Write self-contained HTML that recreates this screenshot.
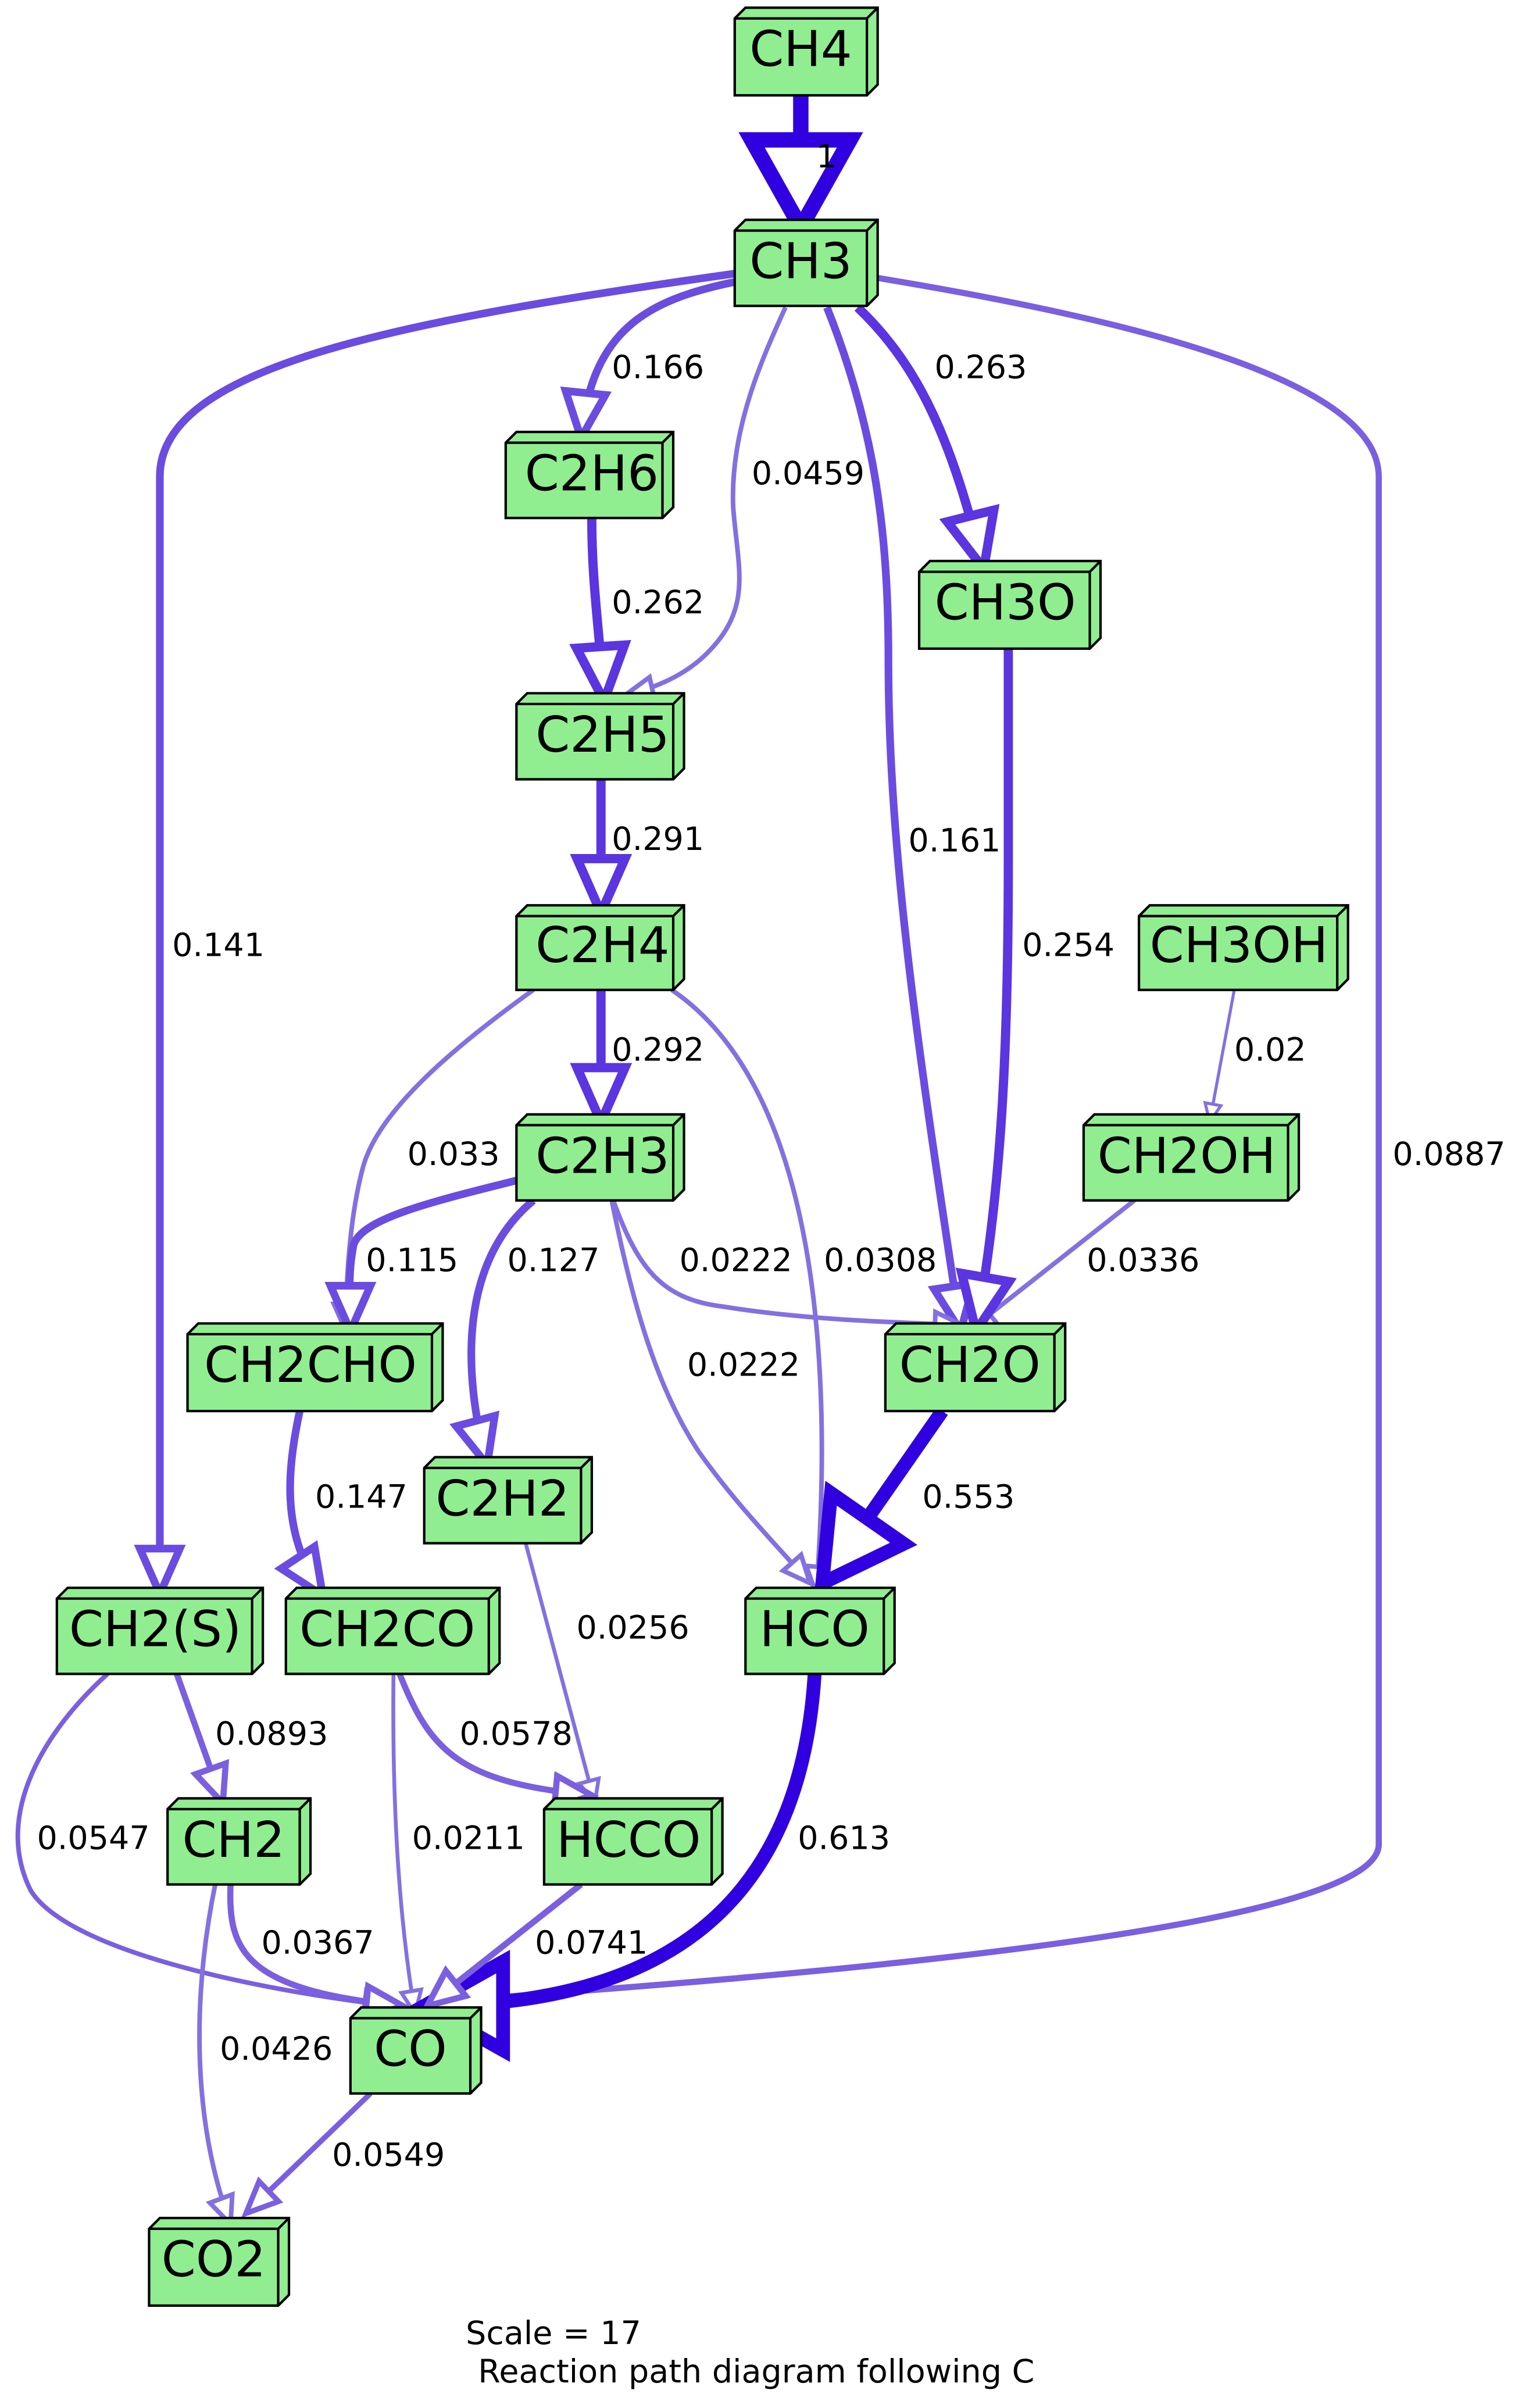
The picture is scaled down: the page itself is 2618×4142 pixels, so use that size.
<!DOCTYPE html>
<html><head><meta charset="utf-8"><style>html,body{margin:0;padding:0;background:#fff}svg{display:block}</style></head>
<body>
<svg xmlns="http://www.w3.org/2000/svg" width="2618" height="4142" viewBox="0 0 990.2 1566.6">
<defs>
<marker id="a1" viewBox="-1 -4.5 8 9" refX="5.7" refY="0" markerWidth="8" markerHeight="9" orient="auto" markerUnits="strokeWidth" overflow="visible"><path d="M0,-3.2 L5.7,0 L0,3.2 Z" fill="#fff" stroke="#3000e0" stroke-width="1"/></marker>
<marker id="a2" viewBox="-1 -4.5 8 9" refX="5.9" refY="0" markerWidth="8" markerHeight="9" orient="auto" markerUnits="strokeWidth" overflow="visible"><path d="M0,-2.6 L5.9,0 L0,2.6 Z" fill="#fff" stroke="#5a35e0" stroke-width="1"/></marker>
<marker id="a3" viewBox="-1 -4.5 8 9" refX="5.9" refY="0" markerWidth="8" markerHeight="9" orient="auto" markerUnits="strokeWidth" overflow="visible"><path d="M0,-2.6 L5.9,0 L0,2.6 Z" fill="#fff" stroke="#6b4ce0" stroke-width="1"/></marker>
<marker id="a4" viewBox="-1 -4.5 8 9" refX="5.9" refY="0" markerWidth="8" markerHeight="9" orient="auto" markerUnits="strokeWidth" overflow="visible"><path d="M0,-2.6 L5.9,0 L0,2.6 Z" fill="#fff" stroke="#7a5fe0" stroke-width="1"/></marker>
<marker id="a5" viewBox="-1 -4.5 8 9" refX="5.9" refY="0" markerWidth="8" markerHeight="9" orient="auto" markerUnits="strokeWidth" overflow="visible"><path d="M0,-2.6 L5.9,0 L0,2.6 Z" fill="#fff" stroke="#8470e0" stroke-width="1"/></marker>
</defs>
<g fill="none">
<path d="M521,62 L521,148" stroke="#3000e0" stroke-width="10" marker-end="url(#a1)"/>
<path d="M480,183 C420,195 385,215 378,285" stroke="#6b4ce0" stroke-width="5" marker-end="url(#a3)"/>
<path d="M511,200 C495,235 475,280 477,330 C480,370 490,395 460,425 C445,440 425,448 407,452" stroke="#8470e0" stroke-width="3" marker-end="url(#a5)"/>
<path d="M538,200 C570,280 578,350 578,430 C578,560 600,700 625,866" stroke="#6b4ce0" stroke-width="5" marker-end="url(#a3)"/>
<path d="M558,200 C600,240 620,290 640,370" stroke="#5a35e0" stroke-width="6" marker-end="url(#a2)"/>
<path d="M478,178 C250,210 104,240 104,310 L104,1037" stroke="#6b4ce0" stroke-width="5" marker-end="url(#a3)"/>
<path d="M566,180 C750,210 897,250 897,310 L897,1200 C897,1260 450,1290 275,1303" stroke="#7a5fe0" stroke-width="4" marker-end="url(#a4)"/>
<path d="M385,337 C385,380 390,410 393,456" stroke="#5a35e0" stroke-width="6" marker-end="url(#a2)"/>
<path d="M391,507 L391,594" stroke="#5a35e0" stroke-width="6" marker-end="url(#a2)"/>
<path d="M391,644 L391,730" stroke="#5a35e0" stroke-width="6" marker-end="url(#a2)"/>
<path d="M347,644 C290,685 245,725 236,760 C228,790 225,830 225,866" stroke="#8470e0" stroke-width="3" marker-end="url(#a5)"/>
<path d="M437,644 C520,700 545,850 531,1037" stroke="#8470e0" stroke-width="3" marker-end="url(#a5)"/>
<path d="M803,644 L787,730" stroke="#8470e0" stroke-width="2" marker-end="url(#a5)"/>
<path d="M738,781 L630,866" stroke="#8470e0" stroke-width="3" marker-end="url(#a5)"/>
<path d="M336,768 C280,782 235,793 230,810 C226,830 228,845 228,866" stroke="#6b4ce0" stroke-width="5" marker-end="url(#a3)"/>
<path d="M347,781 C300,820 300,890 317,953" stroke="#6b4ce0" stroke-width="5" marker-end="url(#a3)"/>
<path d="M399,781 C415,825 430,845 470,850 C520,858 570,860 626,862" stroke="#8470e0" stroke-width="3" marker-end="url(#a5)"/>
<path d="M398,781 C410,840 425,900 455,945 C480,980 505,1005 527,1030" stroke="#8470e0" stroke-width="3" marker-end="url(#a5)"/>
<path d="M656,422 L656,560 C656,700 650,780 635,866" stroke="#5a35e0" stroke-width="6" marker-end="url(#a2)"/>
<path d="M613,918 L535,1030" stroke="#3000e0" stroke-width="9" marker-end="url(#a1)"/>
<path d="M195,918 C185,965 185,1000 210,1038" stroke="#6b4ce0" stroke-width="5" marker-end="url(#a3)"/>
<path d="M342,1004 L387,1173" stroke="#8470e0" stroke-width="2.5" marker-end="url(#a5)"/>
<path d="M115,1089 L145,1173" stroke="#7a5fe0" stroke-width="4" marker-end="url(#a4)"/>
<path d="M70,1089 C30,1125 -5,1180 20,1230 C45,1270 170,1295 255,1305" stroke="#7a5fe0" stroke-width="3" marker-end="url(#a4)"/>
<path d="M260,1089 C280,1140 300,1160 385,1168" stroke="#7a5fe0" stroke-width="4" marker-end="url(#a4)"/>
<path d="M256,1089 C255,1180 260,1250 270,1310" stroke="#8470e0" stroke-width="2.5" marker-end="url(#a5)"/>
<path d="M530,1089 C520,1250 420,1305 276,1305" stroke="#3000e0" stroke-width="9" marker-end="url(#a1)"/>
<path d="M378,1226 L278,1305" stroke="#7a5fe0" stroke-width="4" marker-end="url(#a4)"/>
<path d="M150,1226 C148,1270 160,1295 262,1305" stroke="#7a5fe0" stroke-width="4" marker-end="url(#a4)"/>
<path d="M140,1226 C125,1300 125,1380 150,1447" stroke="#8470e0" stroke-width="3" marker-end="url(#a5)"/>
<path d="M241,1362 L160,1440" stroke="#7a5fe0" stroke-width="3.5" marker-end="url(#a4)"/>
</g>
<g fill="#90ee90" stroke="#000" stroke-width="1.6" stroke-linejoin="miter">
<path d="M478,12 L485,5 L571,5 L571,55 L564,62 L478,62 Z M478,12 H564 V62 M564,12 L571,5"/>
<path d="M478,150 L485,143 L571,143 L571,192 L564,199 L478,199 Z M478,150 H564 V199 M564,150 L571,143"/>
<path d="M329,288 L336,281 L438,281 L438,330 L431,337 L329,337 Z M329,288 H431 V337 M431,288 L438,281"/>
<path d="M598,372 L605,365 L716,365 L716,415 L709,422 L598,422 Z M598,372 H709 V422 M709,372 L716,365"/>
<path d="M336,458 L343,451 L445,451 L445,500 L438,507 L336,507 Z M336,458 H438 V507 M438,458 L445,451"/>
<path d="M336,596 L343,589 L445,589 L445,637 L438,644 L336,644 Z M336,596 H438 V644 M438,596 L445,589"/>
<path d="M741,596 L748,589 L877,589 L877,637 L870,644 L741,644 Z M741,596 H870 V644 M870,596 L877,589"/>
<path d="M336,732 L343,725 L445,725 L445,774 L438,781 L336,781 Z M336,732 H438 V781 M438,732 L445,725"/>
<path d="M705,732 L712,725 L845,725 L845,774 L838,781 L705,781 Z M705,732 H838 V781 M838,732 L845,725"/>
<path d="M122,868 L129,861 L288,861 L288,911 L281,918 L122,918 Z M122,868 H281 V918 M281,868 L288,861"/>
<path d="M576,868 L583,861 L693,861 L693,911 L686,918 L576,918 Z M576,868 H686 V918 M686,868 L693,861"/>
<path d="M276,955 L283,948 L385,948 L385,997 L378,1004 L276,1004 Z M276,955 H378 V1004 M378,955 L385,948"/>
<path d="M37,1040 L44,1033 L171,1033 L171,1082 L164,1089 L37,1089 Z M37,1040 H164 V1089 M164,1040 L171,1033"/>
<path d="M186,1040 L193,1033 L325,1033 L325,1082 L318,1089 L186,1089 Z M186,1040 H318 V1089 M318,1040 L325,1033"/>
<path d="M485,1040 L492,1033 L582,1033 L582,1082 L575,1089 L485,1089 Z M485,1040 H575 V1089 M575,1040 L582,1033"/>
<path d="M109,1177 L116,1170 L202,1170 L202,1219 L195,1226 L109,1226 Z M109,1177 H195 V1226 M195,1177 L202,1170"/>
<path d="M354,1177 L361,1170 L470,1170 L470,1219 L463,1226 L354,1226 Z M354,1177 H463 V1226 M463,1177 L470,1170"/>
<path d="M228,1313 L235,1306 L313,1306 L313,1355 L306,1362 L228,1362 Z M228,1313 H306 V1362 M306,1313 L313,1306"/>
<path d="M97,1450 L104,1443 L188,1443 L188,1493 L181,1500 L97,1500 Z M97,1450 H181 V1500 M181,1450 L188,1443"/>
</g>
<g font-family="'DejaVu Sans','Liberation Sans',sans-serif" font-size="32" text-anchor="middle" fill="#000">
<text x="521" y="43">CH4</text>
<text x="521" y="181">CH3</text>
<text x="385" y="319">C2H6</text>
<text x="654" y="403">CH3O</text>
<text x="392" y="489">C2H5</text>
<text x="392" y="626">C2H4</text>
<text x="806" y="626">CH3OH</text>
<text x="392" y="763">C2H3</text>
<text x="772" y="763">CH2OH</text>
<text x="202" y="899">CH2CHO</text>
<text x="631" y="899">CH2O</text>
<text x="327" y="986">C2H2</text>
<text x="101" y="1071">CH2(S)</text>
<text x="252" y="1071">CH2CO</text>
<text x="530" y="1071">HCO</text>
<text x="152" y="1208">CH2</text>
<text x="409" y="1208">HCCO</text>
<text x="267" y="1344">CO</text>
<text x="139" y="1481">CO2</text>
</g>
<g font-family="'DejaVu Sans','Liberation Sans',sans-serif" font-size="21" fill="#000">
<text x="531" y="109">1</text>
<text x="398" y="246">0.166</text>
<text x="489" y="315">0.0459</text>
<text x="608" y="246">0.263</text>
<text x="398" y="399">0.262</text>
<text x="398" y="553">0.291</text>
<text x="591" y="554">0.161</text>
<text x="112" y="622">0.141</text>
<text x="665" y="622">0.254</text>
<text x="398" y="690">0.292</text>
<text x="803" y="690">0.02</text>
<text x="265" y="758">0.033</text>
<text x="906" y="758">0.0887</text>
<text x="238" y="827">0.115</text>
<text x="330" y="827">0.127</text>
<text x="442" y="827">0.0222</text>
<text x="536" y="827">0.0308</text>
<text x="707" y="827">0.0336</text>
<text x="447" y="895">0.0222</text>
<text x="205" y="981">0.147</text>
<text x="600" y="981">0.553</text>
<text x="375" y="1066">0.0256</text>
<text x="140" y="1135">0.0893</text>
<text x="299" y="1135">0.0578</text>
<text x="24" y="1203">0.0547</text>
<text x="268" y="1203">0.0211</text>
<text x="519" y="1203">0.613</text>
<text x="170" y="1271">0.0367</text>
<text x="348" y="1271">0.0741</text>
<text x="143" y="1340">0.0426</text>
<text x="216" y="1409">0.0549</text>
<text x="303" y="1525">Scale = 17</text>
<text x="311" y="1550">Reaction path diagram following C</text>
</g>
</svg>
</body></html>
